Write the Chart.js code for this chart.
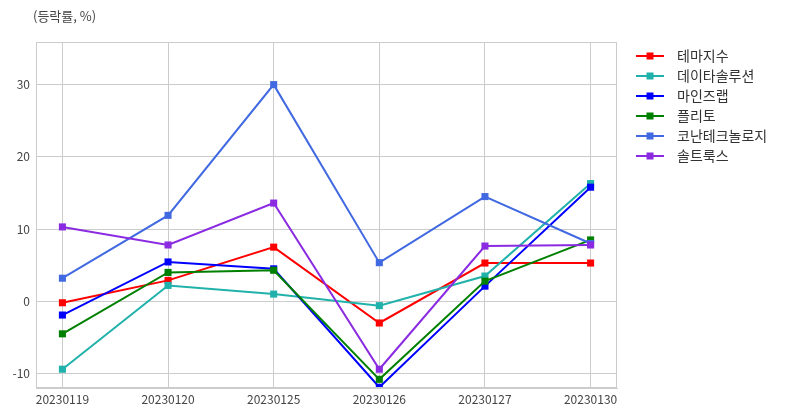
<!DOCTYPE html>
<html>
<head>
<meta charset="utf-8">
<script src="https://cdn.jsdelivr.net/npm/chart.js@4"></script>
<style>
  html, body { margin:0; padding:0; background:#fff; }
  #wrap { width:787px; height:416px; }
</style>
</head>
<body>
<div id="wrap"><canvas id="myChart"></canvas></div>
<script>
// dates on the x axis
var dates = ['20230119','20230120','20230125','20230126','20230127','20230130'];
var names = ['테마지수','데이타솔루션','마인즈랩','플리토','코난테크놀로지','솔트룩스'];
var colors = ['#ff0000','#20b2aa','#0000ff','#008000','#4169e1','#8a2be2'];

var theme   = [-0.2, 2.9, 7.5, -3.0, 5.3, 5.3];
var datasol = [-9.4, 2.2, 1.0, -0.6, 3.5, 16.3];
var minds   = [-1.9, 5.45, 4.5, -11.9, 2.1, 15.8];
var flitto  = [-4.5, 4.0, 4.3, -10.8, 2.8, 8.5];
var konan   = [3.2, 11.9, 30.0, 5.35, 14.5, 8.0];
var saltlux = [10.3, 7.8, 13.6, -9.4, 7.65, 7.8];
var series = [theme, datasol, minds, flitto, konan, saltlux];

var yTicks = [-10, 0, 10, 20, 30];
var font = "'Noto Sans CJK KR', 'Noto Sans', sans-serif";

var datasets = [];
for (var i = 0; i < series.length; i++) {
  datasets.push({
    label: names[i],
    data: series[i].map(function(v, k){ return {x:k, y:v}; }),
    borderColor: colors[i],
    backgroundColor: colors[i],
    borderWidth: 2,
    pointStyle: 'rect',
    pointRadius: 5,
    pointHoverRadius: 5,
    pointBorderWidth: 0,
    tension: 0,
    order: series.length - 1 - i
  });
}

// frame, title and legend
var extras = {
  id: 'extras',
  afterDraw: function(chart){
    var ctx = chart.ctx, a = chart.chartArea;
    ctx.save();
    ctx.strokeStyle = '#cccccc';
    ctx.lineWidth = 1;
    ctx.strokeRect(Math.round(a.left)+0.5, Math.round(a.top)+0.5, Math.round(a.right-a.left)-1, Math.round(a.bottom-a.top)-1);

    ctx.fillStyle = '#444';
    ctx.font = '13px ' + font;
    ctx.textBaseline = 'middle';
    ctx.textAlign = 'left';
    ctx.fillText('(등락률, %)', 33, 16);

    ctx.font = '14px ' + font;
    for (var i = 0; i < chart.data.datasets.length; i++) {
      var d = chart.data.datasets[i];
      var y = 56 + i*20;
      ctx.strokeStyle = d.borderColor;
      ctx.lineWidth = 2;
      ctx.beginPath();
      ctx.moveTo(636, y); ctx.lineTo(664, y);
      ctx.stroke();
      ctx.fillStyle = d.borderColor;
      ctx.fillRect(646.5, y-3.5, 7, 7);
      ctx.fillStyle = '#333';
      ctx.fillText(d.label, 677, y);
    }
    ctx.restore();
  }
};

new Chart(document.getElementById('myChart'), {
  type: 'line',
  data: { datasets: datasets },
  options: {
    responsive: true,
    maintainAspectRatio: false,
    animation: false,
    layout: { padding: { left:0, top:42, right:170, bottom:0 } },
    plugins: { legend: { display:false }, tooltip: { enabled:false } },
    scales: {
      x: {
        type: 'linear',
        min: -0.25, max: 5.25,
        afterFit: function(s){ s.height = 28; },
        afterBuildTicks: function(s){ s.ticks = dates.map(function(d, k){ return {value:k}; }); },
        ticks: {
          includeBounds: false, stepSize: 1, autoSkip: false, maxRotation: 0, padding: 4,
          color: '#444', font: { family: font, size: 12 },
          callback: function(v){ return dates[v]; }
        },
        grid: { color:'#cccccc', drawTicks:false },
        border: { color:'#cccccc' }
      },
      y: {
        min: -12, max: 35.9,
        afterFit: function(s){ s.width = 36; },
        afterBuildTicks: function(s){ s.ticks = yTicks.map(function(v){ return {value:v}; }); },
        ticks: { padding: 6, color:'#444', font: { family: font, size: 12 } },
        grid: { color:'#cccccc', drawTicks:false },
        border: { color:'#cccccc' }
      }
    }
  },
  plugins: [extras]
});
</script>
</body>
</html>
